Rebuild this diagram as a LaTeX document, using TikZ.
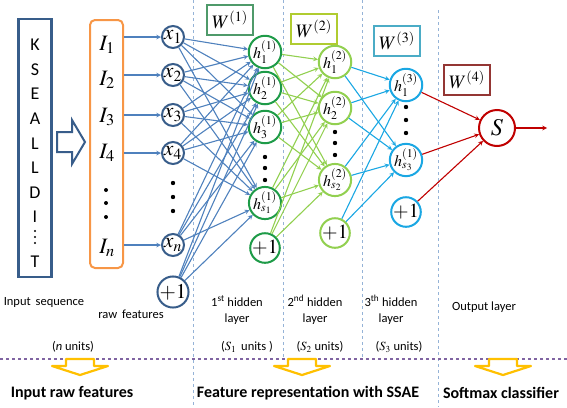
\documentclass[tikz,border=0pt]{standalone}
\usepackage{mathptmx}
\usepackage[no-math]{fontspec}
\setmainfont{Carlito}
\usetikzlibrary{calc}
\tikzset{>=stealth}

\definecolor{seqblue}{HTML}{385D8A}
\definecolor{rawor}{HTML}{F79646}
\definecolor{linkblue}{HTML}{4F81BD}
\definecolor{hidA}{HTML}{1E9B48}
\definecolor{wA}{HTML}{4F9A6A}
\definecolor{hidB}{HTML}{92D050}
\definecolor{wB}{HTML}{B0CC30}
\definecolor{hidC}{HTML}{1AA7E3}
\definecolor{wC}{HTML}{4BACC6}
\definecolor{outred}{HTML}{C00000}
\definecolor{wD}{HTML}{943634}
\definecolor{sepblue}{HTML}{95B3D7}
\definecolor{sectpurple}{HTML}{8064A2}
\definecolor{arrowyellow}{HTML}{FFC000}

\tikzset{
  unit/.style={circle, draw, line width=2pt, minimum size=22pt, inner sep=0pt, fill=white,
    font=\fontsize{16}{18}\selectfont},
  xunit/.style={unit, draw=seqblue, font=\fontsize{21}{22}\selectfont},
  wbox/.style={draw, line width=1.4pt, fill=white, minimum width=46pt, minimum height=30pt,
    inner sep=2pt, font=\fontsize{19}{20}\selectfont},
  link/.style={->, line width=1.1pt},
  letter/.style={inner sep=0pt, font=\fontsize{18}{20}\selectfont},
  ilbl/.style={font=\fontsize{22}{24}\selectfont},
  lbl/.style={font=\fontsize{12.5}{16}\selectfont, align=center},
  sectlbl/.style={font=\bfseries\fontsize{16}{18}\selectfont},
  sep/.style={sepblue, dashed, line width=1pt},
}

\begin{document}
\begin{tikzpicture}[x=1pt,y=-1pt]
    \useasboundingbox (0,0) rectangle (567,407);

    % layer separators
    \draw[sep] (193,0) -- (193,407);
    \draw[sep] (283,0) -- (283,359);
    \draw[sep] (362,0) -- (362,359);
    \draw[sep] (438,10) -- (438,407);
    \draw[sectpurple, dashed, line width=1.4pt] (0,359) -- (567,359);

    % input sequence
    \node[draw=seqblue, line width=2.5pt, minimum width=33pt, minimum height=258pt,
      inner sep=0pt] (seq) at (35,148) {};
    \foreach \ch [count=\i from 0] in {K,S,E,A,L,L,D,I}
      \node[letter] (ch\i) at (35,45+24.6*\i) {\ch};
    \foreach \y in {231,237,243} \fill (35,\y) circle (1.2pt);
    \node[letter] (chT) at (35,262) {T};

    \draw[seqblue, line width=2pt, fill=white] (57,132) -- (72,132) -- (72,120) -- (85,142)
      -- (72,164) -- (72,152) -- (57,152) -- cycle;

    % raw features
    \node[draw=rawor, line width=2pt, rounded corners=5pt, minimum width=33pt,
      minimum height=248pt] (raw) at (106.5,144) {};
    \node[ilbl] (I1) at (107,45) {$I_1$};
    \node[ilbl] (I2) at (107,80) {$I_2$};
    \node[ilbl] (I3) at (107,117) {$I_3$};
    \node[ilbl] (I4) at (107,153) {$I_4$};
    \node[ilbl] (In) at (107,248) {$I_n$};
    \foreach \y in {190,203,217} \fill (106,\y) circle (2pt);

    % input units
    \foreach \n/\y in {1/37,2/75,3/115,4/153}
      \node[xunit] (x\n) at (173,\y) {$x_\n$};
    \node[xunit] (xn) at (173,245) {$x_n$};
    \node[xunit] (x0) at (173,292) {$+1$};
    \foreach \y in {183,197,211} \fill (173,\y) circle (2.2pt);
    \foreach \n in {1,2,3,4,n}
      \draw[link, linkblue] (raw.east |- x\n) -- (x\n);

    % 1st hidden layer
    \node[unit, draw=hidA] (a1) at (265,52) {$h^{(1)}_1$};
    \node[unit, draw=hidA] (a2) at (265,88) {$h^{(1)}_2$};
    \node[unit, draw=hidA] (a3) at (265,127) {$h^{(1)}_3$};
    \node[unit, draw=hidA] (as) at (265,203) {$h^{(1)}_{s_1}$};
    \node[unit, draw=hidA, font=\fontsize{20}{22}\selectfont] (a0) at (265,248) {$+1$};
    \foreach \y in {157,168,180} \fill (265,\y) circle (2.2pt);

    % 2nd hidden layer
    \node[unit, draw=hidB] (b1) at (335,62) {$h^{(2)}_1$};
    \node[unit, draw=hidB] (b2) at (335,108) {$h^{(2)}_2$};
    \node[unit, draw=hidB] (bs) at (335,180) {$h^{(2)}_{s_2}$};
    \node[unit, draw=hidB, font=\fontsize{20}{22}\selectfont] (b0) at (335,233) {$+1$};
    \foreach \y in {132,143,155} \fill (335,\y) circle (2.2pt);

    % 3rd hidden layer
    \node[unit, draw=hidC] (c1) at (406,85) {$h^{(3)}_1$};
    \node[unit, draw=hidC] (cs) at (406,160) {$h^{(1)}_{s_3}$};
    \node[unit, draw=hidC, font=\fontsize{20}{22}\selectfont] (c0) at (406,212) {$+1$};
    \foreach \y in {107,120,133} \fill (406,\y) circle (2.2pt);

    % output
    \node[unit, draw=outred, minimum size=36pt, font=\fontsize{24}{26}\selectfont] (out) at (497,128) {$S$};
    \coordinate (res) at (547,128);
    \draw[link, outred] (out) -- (res);

    % weights
    \foreach \s in {x1,x2,x3,x4,xn,x0}
      \foreach \t in {a1,a2,a3,as}
        \draw[link, linkblue] (\s) -- (\t);
    \foreach \s in {a1,a2,a3,as,a0}
      \foreach \t in {b1,b2,bs}
        \draw[link, hidB] (\s) -- (\t);
    \foreach \s in {b1,b2,bs,b0}
      \foreach \t in {c1,cs}
        \draw[link, hidC] (\s) -- (\t);
    \foreach \s in {c1,cs,c0}
      \draw[link, outred] (\s) -- (out);

    \node[wbox, draw=wA] (w1) at (230,20) {$W^{(1)}$};
    \node[wbox, draw=wB] (w2) at (314,29) {$W^{(2)}$};
    \node[wbox, draw=wC] (w3) at (397,41) {$W^{(3)}$};
    \node[wbox, draw=wD] (w4) at (467,80) {$W^{(4)}$};

    % layer captions
    \node[lbl] (tseq) at (44,302) {Input\, sequence};
    \node[lbl] (traw) at (131,314) {raw\, features};
    \node[lbl] (tn) at (73,347) {(\textit{n} units)};
    \node[lbl] (tl1) at (237,310) {1\textsuperscript{st} hidden\\layer};
    \node[lbl] (ts1) at (247,347) {($S_1$\, units )};
    \node[lbl] (tl2) at (315,310) {2\textsuperscript{nd} hidden\\layer};
    \node[lbl] (ts2) at (320,347) {($S_2$ units)};
    \node[lbl] (tl3) at (391,310) {3\textsuperscript{th} hidden\\layer};
    \node[lbl] (ts3) at (399,347) {($S_3$ units)};
    \node[lbl] (tout) at (484,307) {Output layer};

    % sections
    \foreach \cx in {80,302,503}
      \draw[arrowyellow, line width=2.2pt, fill=white, line join=round]
        (\cx-14,359) -- (\cx+14,359) -- (\cx+14,366) -- (\cx+28,366) -- (\cx,375)
        -- (\cx-28,366) -- (\cx-14,366) -- cycle;
    \node[sectlbl] (sin) at (72,393) {Input raw features};
    \node[sectlbl] (sfeat) at (308,393) {Feature representation with SSAE};
    \node[sectlbl] (ssoft) at (501,393) {Softmax classifier};
\end{tikzpicture}
\end{document}
